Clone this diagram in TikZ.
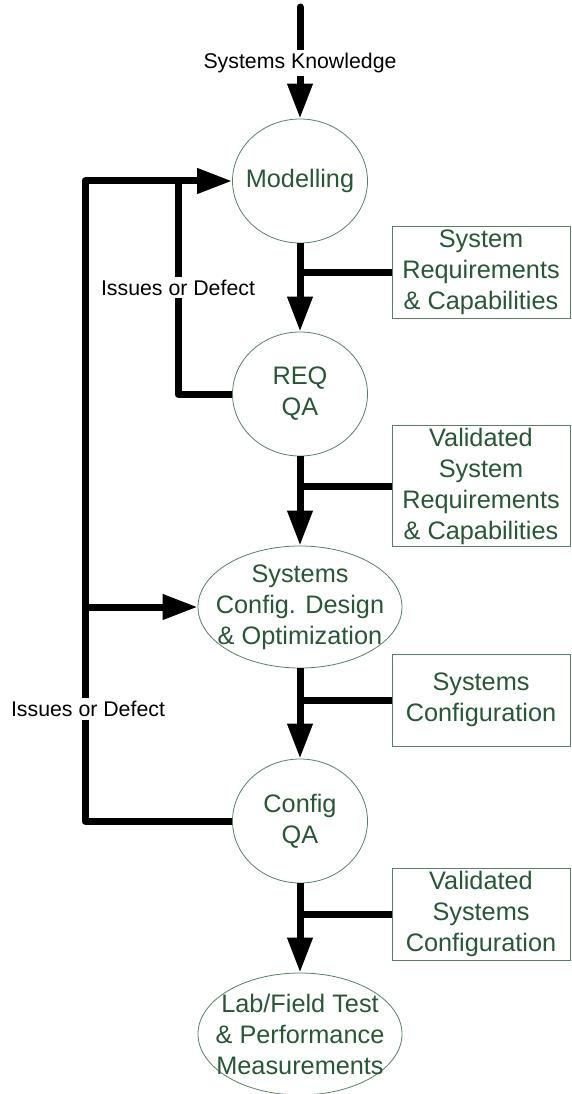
\documentclass[tikz,border=0pt]{standalone}
\usepackage{fontspec}
\setmainfont{Liberation Sans}
\usetikzlibrary{arrows.meta, shapes.geometric}

\definecolor{procgreen}{HTML}{2A5537}
\definecolor{edgegreen}{HTML}{5A7E66}

\tikzset{
  proc/.style={ellipse, draw=edgegreen, line width=0.8pt, inner sep=0pt,
    minimum width=135pt, minimum height=124pt},
  wideproc/.style={proc, minimum width=204pt, minimum height=122pt},
  proctext/.style={text=procgreen, font=\fontsize{25.3}{31}\selectfont,
    align=center, inner sep=0pt},
  datbox/.style={draw=edgegreen, line width=1pt, text=procgreen,
    font=\fontsize{25.3}{31}\selectfont, align=center,
    minimum width=178pt, minimum height=92pt, inner sep=2pt},
  feed/.style={line width=7pt, line join=round},
  flow/.style={feed, -{Triangle[length=35pt,width=24pt]}},
  lbl/.style={fill=white, font=\fontsize{21.3}{25}\selectfont, inner sep=3pt}
}

\begin{document}
\begin{tikzpicture}[x=1pt, y=-1pt]
  \useasboundingbox (0,0) rectangle (571,1094);

  % Process ellipses down the middle
  \node[proc] (model) at (300,181) {};
  \node[proctext] (modeltxt) at (model) {Modelling};
  \node[proc] (req) at (300,394) {};
  \node[proctext] (reqtxt) at (req) {REQ\\QA};
  \node[wideproc] (cfg) at (300,607) {};
  \node[proctext] (cfgtxt) at (cfg) {Systems\\Config. Design\\\& Optimization};
  \node[proc] (cqa) at (300,821) {};
  \node[proctext] (cqatxt) at (cqa) {Config\\QA};
  \node[wideproc] (lab) at (300,1034) {};
  \node[proctext] (labtxt) at (lab) {Lab/Field Test\\\& Performance\\Measurements};

  % Data boxes on the right
  \node[datbox] (sysreq) at (481,272) {System\\Requirements\\\& Capabilities};
  \node[datbox] (valreq) at (481,486) {Validated\\System\\Requirements\\\& Capabilities};
  \node[datbox] (syscfg) at (481,700) {Systems\\Configuration};
  \node[datbox] (valcfg) at (481,914) {Validated\\Systems\\Configuration};

  % Main flow
  \coordinate (src) at (300,7);
  \draw[flow, line cap=round] (src) -- node[lbl] (know) {Systems Knowledge} (model.north);
  \draw[flow] (model) -- (req);
  \draw[flow] (req) -- (cfg);
  \draw[flow] (cfg) -- (cqa);
  \draw[flow] (cqa) -- (lab);

  % Boxes feeding the main flow
  \draw[feed] (sysreq.west) -- (model.south |- sysreq.west);
  \draw[feed] (valreq.west) -- (req.south |- valreq.west);
  \draw[feed] (syscfg.west) -- (cfg.south |- syscfg.west);
  \draw[feed] (valcfg.west) -- (cqa.south |- valcfg.west);

  % Feedback loops
  \coordinate (loopin) at (178,181);
  \coordinate (loopout) at (85,181);
  \draw[feed] (req.west) -| node[lbl, pos=0.75] (issreq) {Issues or Defect} (loopin);
  \draw[flow] (cqa.west) -| (loopout) -- (model.west);
  \draw[flow] (loopout |- cfg.west) -- (cfg.west);
  \node[lbl] (isscfg) at (88,709) {Issues or Defect};
\end{tikzpicture}
\end{document}
